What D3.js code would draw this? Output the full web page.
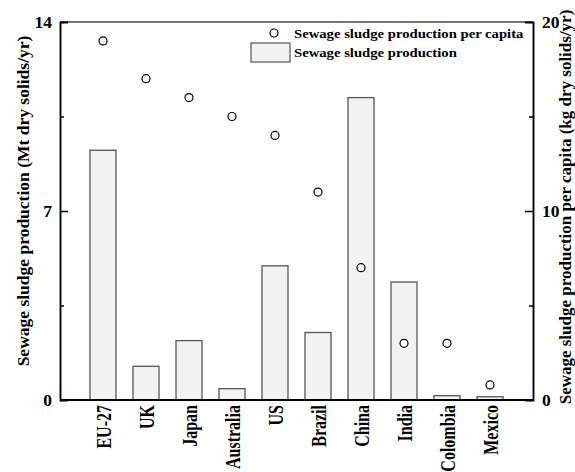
<!DOCTYPE html>
<html lang="en">
<head>
<meta charset="UTF-8">
<title>Sewage sludge production</title>
<script src="https://d3js.org/d3.v7.min.js"></script>
<style>
    body { margin: 0; background: #fff; }
    svg text { font-family: "Liberation Serif", "Times New Roman", serif; font-weight: bold; fill: #000; }
</style>
</head>
<body>
<svg id="chart" width="575" height="472"></svg>
<script>
    const countries = ["EU-27", "UK", "Japan", "Australia", "US", "Brazil", "China", "India", "Colombia", "Mexico"];
    const production = [9.25, 1.25, 2.2, 0.42, 4.97, 2.5, 11.2, 4.37, 0.16, 0.12];
    const perCapita = [19, 17, 16, 15, 14, 11, 7, 3, 3, 0.8];
    const leftTicks = [0, 7, 14];
    const leftMinor = [3.5, 10.5];
    const rightTicks = [0, 10, 20];
    const rightMinor = [5, 15];

    const svg = d3.select("#chart");
    const margin = {left: 60, right: 42, top: 22, bottom: 72};
    const W = 575, H = 472;
    const x0 = margin.left, x1 = W - margin.right;
    const y0 = H - margin.bottom, y1 = margin.top;

    // categories sit at 1..10 on an 0..11 axis
    const x = d3.scaleLinear().domain([0, countries.length + 1]).range([x0, x1]);
    const yL = d3.scaleLinear().domain([0, 14]).range([y0, y1]);
    const yR = d3.scaleLinear().domain([0, 20]).range([y0, y1]);
    const barW = 26;

    // bars
    svg.append("g").selectAll("rect")
        .data(production)
        .enter().append("rect")
        .attr("x", (d, i) => x(i + 1) - barW / 2)
        .attr("y", d => yL(d))
        .attr("width", barW)
        .attr("height", d => yL(0) - yL(d))
        .attr("fill", "#f2f2f2")
        .attr("stroke", "#555")
        .attr("stroke-width", 1.3);

    // points
    svg.append("g").selectAll("circle")
        .data(perCapita)
        .enter().append("circle")
        .attr("cx", (d, i) => x(i + 1))
        .attr("cy", d => yR(d))
        .attr("r", 4)
        .attr("fill", "#fff")
        .attr("stroke", "#000")
        .attr("stroke-width", 1.2);

    // frame
    svg.append("line").attr("x1", x0).attr("x2", x1).attr("y1", y1).attr("y2", y1)
        .attr("stroke", "#444").attr("stroke-width", 1.5);
    svg.append("line").attr("x1", x0).attr("x2", x1).attr("y1", y0).attr("y2", y0)
        .attr("stroke", "#000").attr("stroke-width", 2);

    // left axis (ticks point inward)
    const left = svg.append("g").attr("transform", `translate(${x0},0)`)
        .call(d3.axisRight(yL).tickValues(leftTicks).tickSize(8).tickFormat(""));
    left.append("g").call(d3.axisRight(yL).tickValues(leftMinor).tickSize(4).tickFormat(""));
    left.selectAll(".domain").attr("stroke", "#000").attr("stroke-width", 1.5);
    left.selectAll("line").attr("stroke", "#000").attr("stroke-width", 1.5);
    svg.append("g").selectAll("text")
        .data(leftTicks)
        .enter().append("text")
        .attr("x", x0 - 8)
        .attr("y", d => yL(d))
        .attr("dy", "0.35em")
        .attr("text-anchor", "end")
        .attr("font-size", 17.5)
        .text(d => d);

    // right axis (ticks point inward)
    const right = svg.append("g").attr("transform", `translate(${x1},0)`)
        .call(d3.axisLeft(yR).tickValues(rightTicks).tickSize(8).tickFormat(""));
    right.append("g").call(d3.axisLeft(yR).tickValues(rightMinor).tickSize(4).tickFormat(""));
    right.selectAll(".domain").attr("stroke", "#000").attr("stroke-width", 1.5);
    right.selectAll("line").attr("stroke", "#000").attr("stroke-width", 1.5);
    svg.append("g").selectAll("text")
        .data(rightTicks)
        .enter().append("text")
        .attr("x", x1 + 9)
        .attr("y", d => yR(d))
        .attr("dy", "0.35em")
        .attr("text-anchor", "start")
        .attr("font-size", 17.5)
        .text(d => d);

    // category labels (glyphs a bit stretched, like the source figure)
    svg.append("g").selectAll("text")
        .data(countries)
        .enter().append("text")
        .attr("transform", (d, i) => `translate(${x(i + 1) + 8},${y0 + 5}) rotate(-90) scale(1,1.25)`)
        .attr("text-anchor", "end")
        .attr("font-size", 16)
        .text(d => d);

    // axis titles
    svg.append("text")
        .attr("transform", `translate(29,201) rotate(-90)`)
        .attr("text-anchor", "middle")
        .attr("font-size", 17.5)
        .text("Sewage sludge production (Mt dry solids/yr)");
    svg.append("text")
        .attr("transform", `translate(571,207) rotate(-90)`)
        .attr("text-anchor", "middle")
        .attr("font-size", 17)
        .text("Sewage sludge production per capita (kg dry solids/yr)");

    // legend
    const legend = svg.append("g");
    legend.append("circle").attr("cx", 274).attr("cy", 33).attr("r", 4)
        .attr("fill", "#fff").attr("stroke", "#000").attr("stroke-width", 1.2);
    legend.append("text").attr("transform", "translate(294,38) scale(1.13,1)").attr("font-size", 13)
        .text("Sewage sludge production per capita");
    legend.append("rect").attr("x", 251).attr("y", 43).attr("width", 39).attr("height", 19)
        .attr("fill", "#f2f2f2").attr("stroke", "#555").attr("stroke-width", 1.2);
    legend.append("text").attr("transform", "translate(294,57) scale(1.13,1)").attr("font-size", 13)
        .text("Sewage sludge production");
</script>
</body>
</html>
